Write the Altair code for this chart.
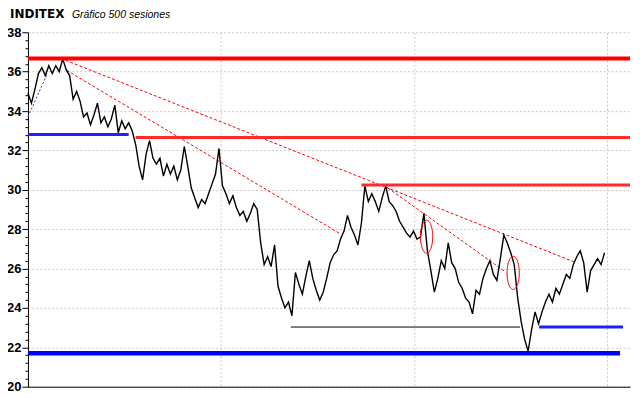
import math
import altair as alt
import pandas as pd

# ---------------- data ----------------
# session index (every 3rd session) and price
session = [3 * k for k in range(167)]
close = [
    34.9, 34.4, 35.1, 35.9, 36.2, 35.8, 36.3, 35.9, 36.3, 36.0,
    36.65, 36.1, 35.8, 34.6, 35.0, 34.5, 33.7, 33.9, 33.3, 33.8,
    34.4, 33.4, 33.7, 33.2, 33.6, 34.3, 32.9, 33.5, 33.1, 33.4,
    33.0, 32.3, 31.2, 30.5, 31.8, 32.5, 31.6, 31.3, 31.6, 30.7,
    31.3, 30.8, 31.2, 30.5, 31.0, 32.2, 31.2, 30.1, 29.6, 29.1,
    29.5, 29.3, 29.8, 30.3, 30.8, 32.1, 30.2, 29.8, 29.3, 29.7,
    29.1, 28.7, 28.9, 28.4, 28.8, 29.3, 29.0, 27.3, 26.2, 26.6,
    26.1, 27.2, 25.1, 24.5, 24.0, 24.3, 23.6, 25.8, 25.2, 24.7,
    25.6, 26.4, 25.5, 24.9, 24.4, 24.8, 25.5, 26.3, 26.7, 26.9,
    27.5, 27.9, 28.7, 28.1, 27.7, 27.2, 28.3, 30.2, 29.4, 29.8,
    29.4, 28.9, 29.6, 30.2, 29.4, 29.2, 28.9, 28.4, 28.1, 27.8,
    27.6, 27.9, 27.5, 27.6, 28.8, 26.9, 25.9, 24.8, 25.5, 26.4,
    26.0, 27.3, 26.3, 26.0, 25.3, 25.0, 24.5, 24.3, 23.7, 24.9,
    24.7, 25.5, 26.0, 26.4, 25.7, 25.4, 26.5, 27.7, 27.3, 26.8,
    26.2, 24.5, 23.3, 22.4, 21.8, 22.9, 23.8, 23.2, 23.8, 24.3,
    24.7, 24.3, 25.0, 24.7, 25.2, 25.7, 25.5, 26.2, 26.6, 26.9,
    26.3, 24.8, 25.9, 26.2, 26.5, 26.2, 26.8,
]

# horizontal support / resistance levels
res_thick_price = [36.67]
res_thick_start = [0]
res_thick_end = [520]

res_price = [32.66, 30.24]
res_start = [93, 288]
res_end = [520, 520]

sup_thick_price = [21.70]
sup_thick_start = [0]
sup_thick_end = [511.4]

sup_price = [32.81, 23.03]
sup_start = [0, 441.5]
sup_end = [87, 514]

thin_price = [23.03]
thin_start = [227]
thin_end = [425]

# trend lines (session, price) -> (session, price)
trend_x1 = [28.5, 33.4, 307.3]
trend_y1 = [36.67, 36.07, 30.24]
trend_x2 = [471.7, 269.0, 411.3]
trend_y2 = [26.34, 27.79, 25.88]

blue_trend_x1 = [0]
blue_trend_y1 = [33.71]
blue_trend_x2 = [16.1]
blue_trend_y2 = [35.82]

# circled spots
ellipse_session = [344.3, 419.1]
ellipse_price = [27.62, 25.78]

y_major = [20, 22, 24, 26, 28, 30, 32, 34, 36, 38]
y_minor = [round(20 + 0.4 * j, 1) for j in range(46) if j % 5 != 0]
x_grid = [0, 500 / 3, 1000 / 3, 500]

# ---------------- chart ----------------
X_DOM = [0, 520]
Y_DOM = [20, 38]
xs = alt.Scale(domain=X_DOM, nice=False, zero=False)
ys = alt.Scale(domain=Y_DOM, nice=False, zero=False)

price_df = pd.DataFrame({"session": session, "close": close})

price = alt.Chart(price_df).mark_line(color="black", strokeWidth=1.4).encode(
    x=alt.X("session:Q", scale=xs, title=None,
            axis=alt.Axis(values=x_grid, labels=False, ticks=False, grid=True,
                          gridColor="#c8c8c8", gridDash=[2, 2], domainColor="black",
                          domainWidth=1)),
    y=alt.Y("close:Q", scale=ys, title=None,
            axis=alt.Axis(values=y_major, orient="left", tickSize=6, tickColor="black",
                          domainColor="black", labelFont="Liberation Sans",
                          labelFontWeight="bold", labelFontSize=13, labelColor="black",
                          labelPadding=1, grid=True, gridColor="#c8c8c8",
                          gridDash=[2, 2])),
)

minor = alt.Chart(pd.DataFrame({"v": y_minor})).mark_point(opacity=0).encode(
    x=alt.value(0),
    y=alt.Y("v:Q", scale=ys, title=None,
            axis=alt.Axis(values=y_minor, orient="left", tickSize=3, tickColor="black",
                          labels=False, domain=False, grid=False)),
)


def levels(p, s, e, color, width, opacity=1.0):
    df = pd.DataFrame({"p": p, "s": s, "e": e})
    return alt.Chart(df).mark_rule(color=color, strokeWidth=width, opacity=opacity).encode(
        x=alt.X("s:Q", scale=xs, axis=None),
        x2="e:Q",
        y=alt.Y("p:Q", scale=ys, axis=None),
    )


lv1 = levels(res_thick_price, res_thick_start, res_thick_end, "#ff0000", 4)
lv2 = levels(res_price, res_start, res_end, "#ff2a2a", 3)
lv3 = levels(sup_thick_price, sup_thick_start, sup_thick_end, "#0000ff", 4.5)
lv4 = levels(sup_price, sup_start, sup_end, "#2020ff", 3)
lv5 = levels(thin_price, thin_start, thin_end, "#000000", 1)


def trends(x1, y1, x2, y2, color, dash):
    df = pd.DataFrame({"x1": x1, "y1": y1, "x2": x2, "y2": y2})
    return alt.Chart(df).mark_rule(color=color, strokeWidth=1, strokeDash=dash).encode(
        x=alt.X("x1:Q", scale=xs, axis=None),
        y=alt.Y("y1:Q", scale=ys, axis=None),
        x2="x2:Q",
        y2="y2:Q",
    )


tr = trends(trend_x1, trend_y1, trend_x2, trend_y2, "#ff0000", [3, 2])
btr = trends(blue_trend_x1, blue_trend_y1, blue_trend_x2, blue_trend_y2, "#2a2aff", [2, 2])

# elliptical outline symbol (aspect ratio of the drawn circles)
n = 48
pts = [(0.37 * math.cos(2 * math.pi * j / n), math.sin(2 * math.pi * j / n)) for j in range(n)]
ellipse_path = "M" + " L".join(f"{a:.3f},{b:.3f}" for a, b in pts) + " Z"

ell = alt.Chart(pd.DataFrame({"s": ellipse_session, "p": ellipse_price})).mark_point(
    shape=ellipse_path, filled=False, color="#ff0000", strokeWidth=1, size=1100, opacity=1
).encode(
    x=alt.X("s:Q", scale=xs, axis=None),
    y=alt.Y("p:Q", scale=ys, axis=None),
)

one = alt.Data(values=[{"a": 1}])
t1 = alt.Chart(one).mark_text(
    text="INDITEX", font="DejaVu Sans", fontWeight="bold", fontSize=12,
    align="left", baseline="alphabetic", color="black"
).encode(x=alt.value(-18), y=alt.value(-14))
t2 = alt.Chart(one).mark_text(
    text="Gráfico 500 sesiones", font="Liberation Sans", fontStyle="italic", fontSize=10.5,
    align="left", baseline="alphabetic", color="black"
).encode(x=alt.value(44), y=alt.value(-14))

chart = alt.layer(
    minor, lv5, tr, btr, price, lv1, lv2, lv3, lv4, ell, t1, t2
).resolve_axis(y="independent", x="independent").properties(
    width=603,
    height=355,
    autosize=alt.AutoSizeParams(type="none"),
    padding={"left": 20, "top": 24, "right": 2, "bottom": 9},
).configure_view(stroke=None)

chart.save("out.html", embed_options={"renderer": "svg", "actions": False})
